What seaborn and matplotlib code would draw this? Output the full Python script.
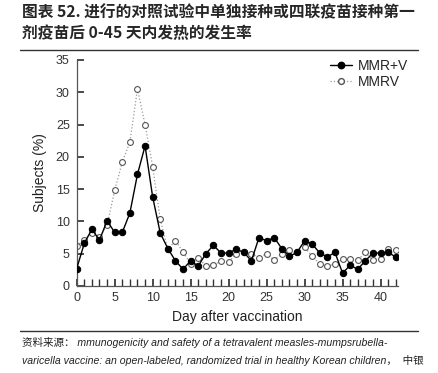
import numpy as np
import pandas as pd
import matplotlib
matplotlib.use("Agg")
import matplotlib.pyplot as plt
import seaborn as sns
from matplotlib.lines import Line2D

sns.set_theme(style="ticks")
plt.rcParams['font.family'] = ['Liberation Sans Narrow', 'Liberation Sans', 'DejaVu Sans']

# data (percent of subjects with fever per day)
days = list(range(0, 43))
mmr_v = [2.7, 6.6, 8.8, 7.1, 10.1, 8.3, 8.3, 11.3, 17.3, 21.7,
         13.8, 8.2, 5.8, 3.9, 2.6, 3.9, 3.1, 5.0, 6.3, 5.1,
         5.1, 5.7, 5.2, 3.9, 7.5, 7.0, 7.5, 5.8, 4.6, 5.2,
         7.0, 6.5, 5.1, 4.5, 5.2, 2.0, 3.2, 2.6, 3.9, 5.1,
         5.1, 5.2, 4.5]
mmrv = [6.2, 7.2, 8.2, 7.6, 9.4, 14.8, 19.2, 22.3, 30.5, 25.0,
        18.5, 10.3, 5.7, 7.0, 5.3, 3.4, 4.4, 3.1, 3.2, 3.9,
        3.7, 5.0, 5.3, 5.0, 4.4, 5.0, 4.0, 5.0, 5.5, 5.2,
        6.0, 4.6, 3.4, 3.1, 3.4, 4.2, 4.2, 4.0, 5.2, 4.0,
        4.2, 5.8, 5.5]
series_names = ['MMR+V', 'MMRV']
x_ticks = [0, 5, 10, 15, 20, 25, 30, 35, 40]
y_ticks = [0, 5, 10, 15, 20, 25, 30, 35]

title_lines = ['图表 52. 进行的对照试验中单独接种或四联疫苗接种第一',
               '剂疫苗后 0-45 天内发热的发生率']
source_lines = ['资料来源： mmunogenicity and safety of a tetravalent measles-mumpsrubella-',
                'varicella vaccine: an open-labeled, randomized trial in healthy Korean children，  中银']

df = pd.DataFrame({'day': days, 'MMR+V': mmr_v, 'MMRV': mmrv})

W, H = 439, 373
fig = plt.figure(figsize=(W / 100, H / 100), dpi=100)
ax = fig.add_axes([76.7 / W, 1 - 286 / H, (398 - 76.7) / W, (286 - 60) / H])

sns.lineplot(data=df, x='day', y='MMRV', ax=ax, color='#9a9a9a', linestyle=':',
             linewidth=0.9, marker='o', markersize=4.2, markerfacecolor='white',
             markeredgecolor='#555555', markeredgewidth=0.8, zorder=2)
sns.lineplot(data=df, x='day', y='MMR+V', ax=ax, color='black', linewidth=1.0,
             marker='o', markersize=4.6, markerfacecolor='black',
             markeredgecolor='black', zorder=3)

ax.set_xlim(0, 42.3)
ax.set_ylim(0, 35)
ax.set_xticks(x_ticks)
ax.set_xticks(days, minor=True)
ax.set_yticks(y_ticks)
ax.tick_params(axis='both', which='both', direction='in', labelsize=9, colors='#333333')
ax.tick_params(axis='x', which='major', length=5, pad=4)
ax.tick_params(axis='x', which='minor', length=5)
ax.tick_params(axis='y', length=5, pad=5)
ax.set_xlabel('Day after vaccination', fontsize=10, color='#222222', labelpad=5)
ax.set_ylabel('Subjects (%)', fontsize=10, color='#222222', labelpad=6)
sns.despine(ax=ax)
for s in ('left', 'bottom'):
    ax.spines[s].set_color('#555555')
    ax.spines[s].set_linewidth(0.9)

handles = [
    Line2D([], [], color='black', linewidth=1.0, marker='o', markersize=4.6),
    Line2D([], [], color='#9a9a9a', linestyle=':', linewidth=0.9, marker='o',
           markersize=4.2, markerfacecolor='white', markeredgecolor='#555555'),
]
ax.legend(handles, series_names, loc='upper right', bbox_to_anchor=(1.07, 1.06),
          frameon=False, fontsize=10, handlelength=1.6, handletextpad=0.4,
          labelspacing=0.15)

cjk = ['Noto Sans CJK SC', 'DejaVu Sans']
fig.text(22 / W, 1 - 12 / H, title_lines[0], fontsize=11.3, fontweight='bold',
         family=cjk, va='center', ha='left')
fig.text(22 / W, 1 - 33 / H, title_lines[1], fontsize=11.3, fontweight='bold',
         family=cjk, va='center', ha='left')
fig.add_artist(Line2D([20 / W, 418 / W], [1 - 50 / H, 1 - 50 / H], color='#333333', lw=1.0))
fig.add_artist(Line2D([20 / W, 418 / W], [1 - 331 / H, 1 - 331 / H], color='#333333', lw=1.0))
src_font = ['Liberation Sans Narrow', 'Liberation Sans', 'Noto Sans CJK SC']
fig.text(22 / W, 1 - 342 / H, source_lines[0], fontsize=7.6, style='italic',
         family=src_font, va='center', ha='left', color='#222222')
fig.text(22 / W, 1 - 361 / H, source_lines[1], fontsize=7.6, style='italic',
         family=src_font, va='center', ha='left', color='#222222')

fig.savefig('out.png', dpi=100)
